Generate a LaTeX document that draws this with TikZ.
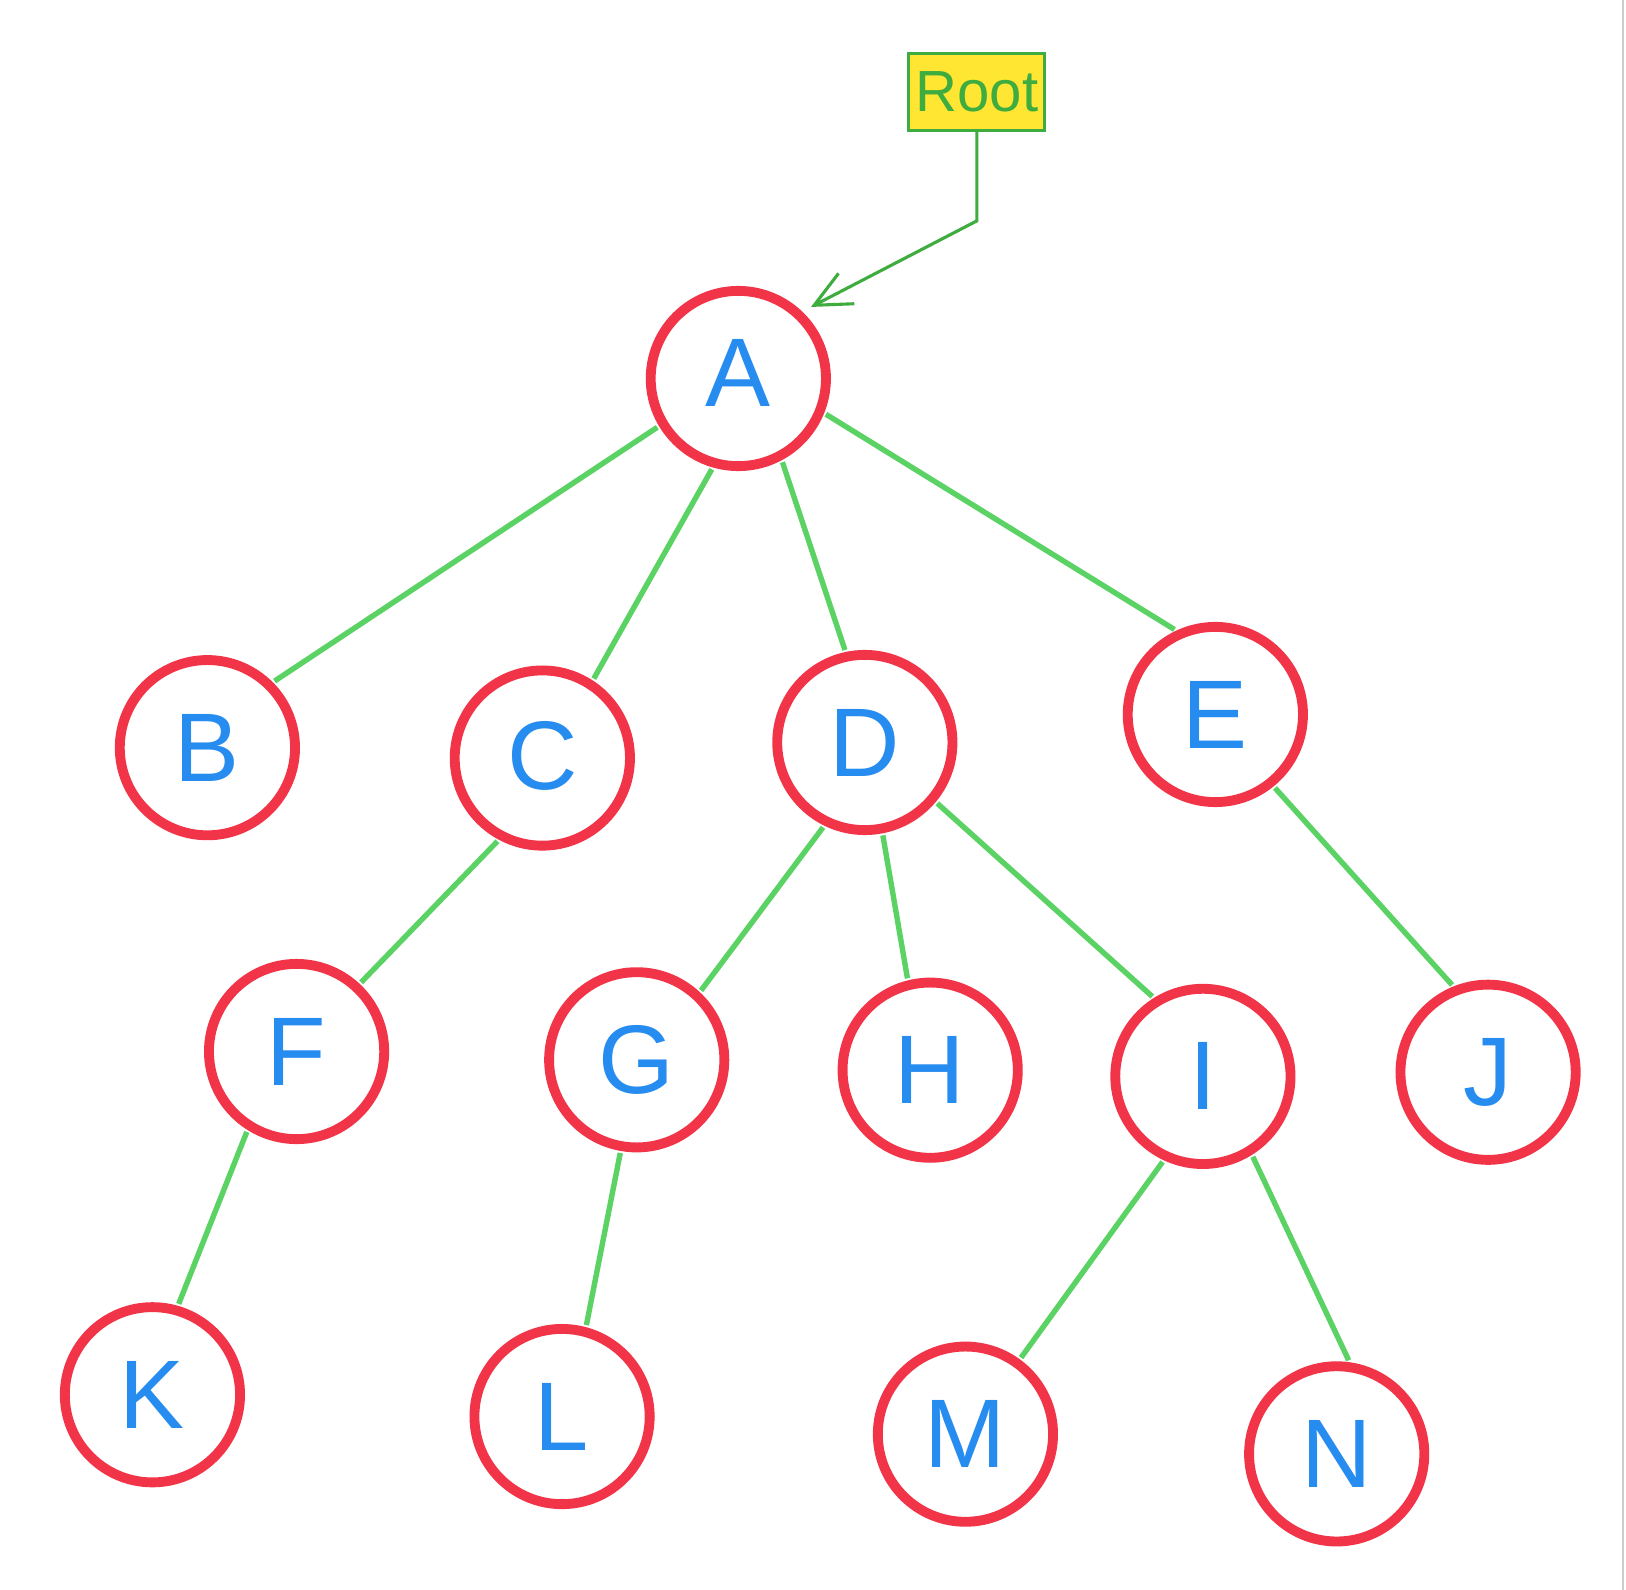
\documentclass[tikz,border=0pt]{standalone}
\usepackage{fontspec}
\setmainfont{Liberation Sans}
\usetikzlibrary{arrows.meta}
\definecolor{nodered}{RGB}{242,52,72}
\definecolor{letterblue}{RGB}{38,140,240}
\definecolor{edgegreen}{RGB}{90,210,100}
\definecolor{arrowgreen}{RGB}{62,172,62}
\definecolor{rootyellow}{RGB}{255,230,50}
\begin{document}
\begin{tikzpicture}[x=1pt,y=-1pt,
  tnode/.style={circle,draw=nodered,line width=9.5pt,minimum size=169pt,inner sep=0pt,
    text=letterblue,font=\fontsize{94}{100}\selectfont},
  tedge/.style={draw=edgegreen,line width=5.2pt,shorten <=2pt,shorten >=2pt},
  rootbox/.style={draw=arrowgreen,fill=rootyellow,line width=3pt,text=arrowgreen,
    font=\fontsize{56}{60}\selectfont,minimum width=131pt,minimum height=74pt,inner sep=0pt},
  rootarrow/.style={draw=arrowgreen,line width=3pt,-{Straight Barb[length=35pt,width=33pt,line width=3pt]}}]
\useasboundingbox (0,0) rectangle (1568,1533);
\fill[white] (0,0) rectangle (1568,1533);
\draw[gray!40,line width=2pt] (1565,0) -- (1565,1533);
\node[rootbox] (root) at (942,89) {Root};
\node[tnode] (A) at (712,365) {\raisebox{10pt}{A}};
\node[tnode] (B) at (200,721) {B};
\node[tnode] (C) at (523,731) {\raisebox{5pt}{C}};
\node[tnode] (D) at (834,716) {D};
\node[tnode] (E) at (1172,689) {E};
\node[tnode] (F) at (286,1014) {F};
\node[tnode] (G) at (614,1022) {G};
\node[tnode] (H) at (897,1032) {H};
\node[tnode] (I) at (1160,1038) {I};
\node[tnode] (J) at (1435,1034) {J};
\node[tnode] (K) at (147,1345) {K};
\node[tnode] (L) at (542,1366) {L};
\node[tnode] (M) at (931,1383) {M};
\node[tnode] (N) at (1289,1402) {N};
\coordinate (bend) at (942,213);
\coordinate (Atip) at ([shift={(70,-69)}]A.center);
\draw[rootarrow] (root.south) -- (bend) -- (Atip);
\draw[tedge] (A.211.5) -- (B.45.9);
\draw[tedge] (A.254.9) -- (C.57.8);
\draw[tedge] (A.298.2) -- (D.102.8);
\draw[tedge] (A.338.6) -- (E.115.5);
\draw[tedge] (C.242) -- (F.47.6);
\draw[tedge] (D.244.6) -- (G.47.7);
\draw[tedge] (D.281.9) -- (H.104.9);
\draw[tedge] (D.320.7) -- (I.122);
\draw[tedge] (E.309.2) -- (J.112);
\draw[tedge] (F.238.3) -- (K.74.6);
\draw[tedge] (G.260.2) -- (L.75.7);
\draw[tedge] (I.245.3) -- (M.54.3);
\draw[tedge] (I.302.7) -- (N.82.6);
\end{tikzpicture}
\end{document}
